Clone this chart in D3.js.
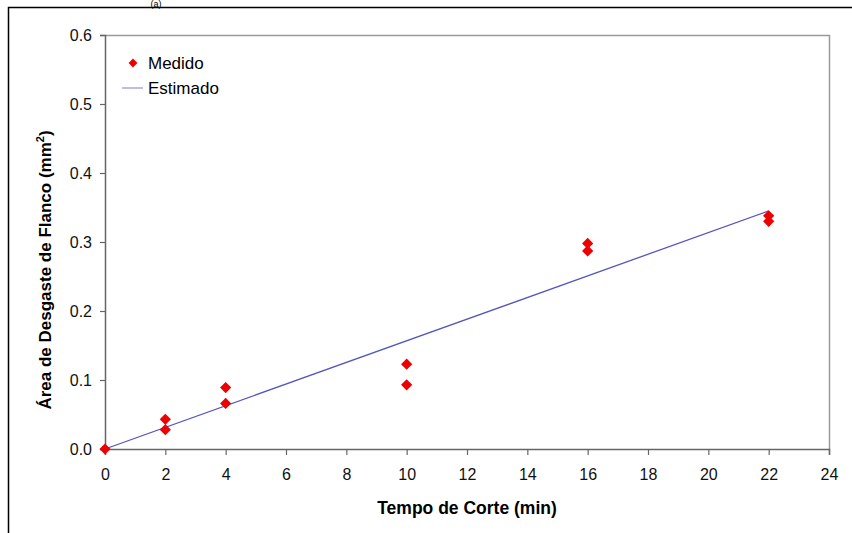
<!DOCTYPE html>
<html>
<head>
    <style>
        body { margin: 0; background: #fff; }
        text { font-family: Arial, "Liberation Sans", sans-serif; }
    </style>
    <script src="https://d3js.org/d3.v7.min.js"></script>
</head>
<body>
    <svg width="852" height="533"></svg>
    <script>
        // dados medidos (tempo em min, area em mm2)
        var tempo = [0, 2, 2, 4, 4, 10, 10, 16, 16, 22, 22];
        var medido = [0.0, 0.043, 0.028, 0.089, 0.066, 0.123, 0.093, 0.298, 0.287, 0.338, 0.330];
        // reta estimada
        var tempoEst = [0, 22];
        var estimado = [0.0, 0.345];
        var xTicks = [0, 2, 4, 6, 8, 10, 12, 14, 16, 18, 20, 22, 24];
        var yTicks = [0.0, 0.1, 0.2, 0.3, 0.4, 0.5, 0.6];

        var svg = d3.select("svg");

        // moldura externa
        svg.append("rect")
            .attr("x", 8.5).attr("y", 7.5)
            .attr("width", 852).attr("height", 540)
            .attr("fill", "none").attr("stroke", "#000").attr("stroke-width", 1.5);

        svg.append("text")
            .attr("x", 156).attr("y", 7)
            .attr("text-anchor", "middle")
            .attr("font-size", 9)
            .text("(a)");

        var x = d3.scaleLinear().domain([0, 24]).range([105, 829]);
        var y = d3.scaleLinear().domain([0, 0.6]).range([449, 35]);

        // bordas superior e direita da area do grafico
        svg.append("path")
            .attr("d", "M" + x(0) + "," + (y(0.6) + 0.5) + "H" + (x(24) + 0.5) + "V" + y(0))
            .attr("fill", "none").attr("stroke", "#999").attr("stroke-width", 1.5);

        var xAxis = svg.append("g")
            .attr("transform", "translate(0," + y(0) + ")")
            .call(d3.axisBottom(x).tickValues(xTicks).tickSize(6).tickPadding(14).tickFormat(d3.format("d")));
        var yAxis = svg.append("g")
            .attr("transform", "translate(" + x(0) + ",0)")
            .call(d3.axisLeft(y).tickValues(yTicks).tickSize(5).tickPadding(8).tickFormat(d3.format(".1f")));

        [xAxis, yAxis].forEach(function(a) {
            a.select(".domain").attr("stroke", "#666").attr("stroke-width", 1.5);
            a.selectAll(".tick line").attr("stroke", "#666").attr("stroke-width", 1.2);
            a.selectAll(".tick text").attr("font-size", 16).attr("fill", "#111")
                .style("font-family", "Arial, 'Liberation Sans', sans-serif");
        });

        // reta estimada
        var linha = d3.line()
            .x(function(d) { return x(d[0]); })
            .y(function(d) { return y(d[1]); });
        svg.append("path")
            .datum(d3.zip(tempoEst, estimado))
            .attr("d", linha)
            .attr("fill", "none")
            .attr("stroke", "#5656bb")
            .attr("stroke-width", 1.3);

        // pontos medidos
        var diamante = d3.symbol().type(d3.symbolDiamond2).size(80);
        svg.append("g").selectAll("path")
            .data(d3.zip(tempo, medido))
            .enter().append("path")
            .attr("d", diamante)
            .attr("transform", function(d) { return "translate(" + x(d[0]) + "," + y(d[1]) + ")"; })
            .attr("fill", "#ee0000");

        // legenda
        svg.append("path")
            .attr("d", d3.symbol().type(d3.symbolDiamond2).size(50))
            .attr("transform", "translate(133,63)")
            .attr("fill", "#ee0000");
        svg.append("text").attr("x", 148).attr("y", 69).attr("font-size", 17).text("Medido");
        svg.append("line")
            .attr("x1", 122).attr("x2", 143).attr("y1", 88).attr("y2", 88)
            .attr("stroke", "#a8a8d8").attr("stroke-width", 1.5);
        svg.append("text").attr("x", 148).attr("y", 94).attr("font-size", 17).text("Estimado");

        // titulos dos eixos
        svg.append("text")
            .attr("x", 467).attr("y", 514)
            .attr("text-anchor", "middle")
            .attr("font-size", 17.5).attr("font-weight", "bold")
            .text("Tempo de Corte (min)");

        var yl = svg.append("text")
            .attr("transform", "translate(51,270) rotate(-90)")
            .attr("text-anchor", "middle")
            .attr("font-size", 17).attr("font-weight", "bold");
        yl.append("tspan").text("Área de Desgaste de Flanco (mm");
        yl.append("tspan").attr("font-size", 11).attr("dy", -7).text("2");
        yl.append("tspan").attr("dy", 7).text(")");
    </script>
</body>
</html>
